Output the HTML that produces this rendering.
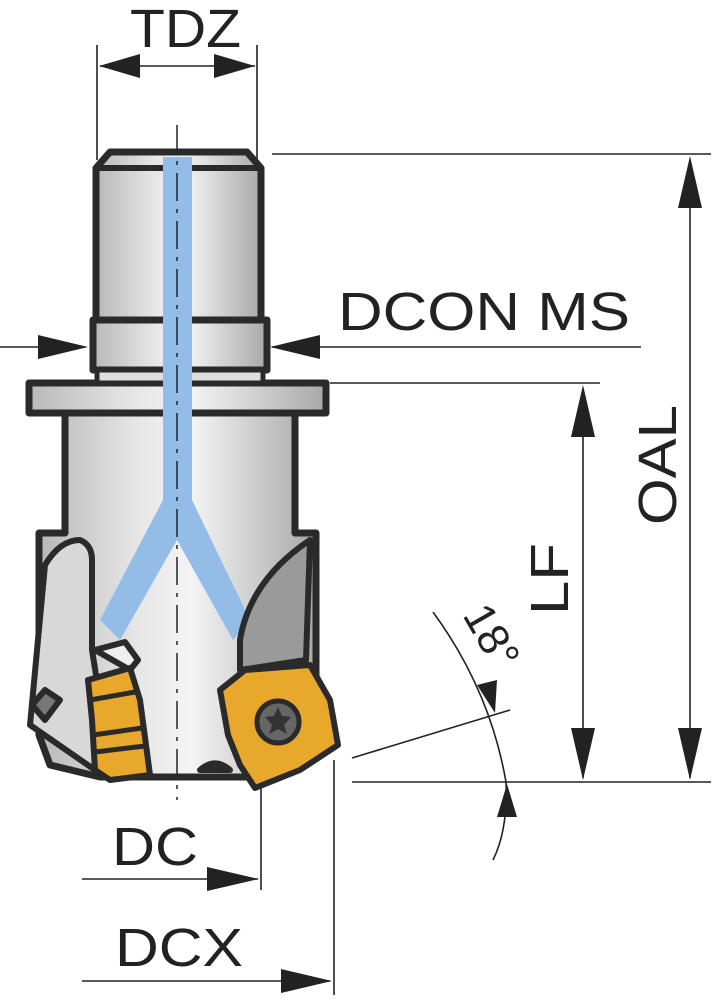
<!DOCTYPE html>
<html><head><style>html,body{margin:0;padding:0;background:#fff}svg{display:block}</style></head><body>
<svg width="712" height="1000" viewBox="0 0 712 1000" xmlns="http://www.w3.org/2000/svg">
<defs>
<linearGradient id="g" x1="0" x2="1" y1="0" y2="0">
<stop offset="0" stop-color="#b8b8b8"/><stop offset="0.35" stop-color="#e6e6e6"/><stop offset="0.55" stop-color="#f4f4f4"/><stop offset="1" stop-color="#a8a8a8"/>
</linearGradient>
</defs>
<g fill="none" stroke="#222" stroke-width="1.6">
<line x1="97" y1="45" x2="97" y2="160"/>
<line x1="257" y1="45" x2="257" y2="160"/>
<line x1="100" y1="66" x2="255" y2="66"/>
<line x1="272" y1="154" x2="711" y2="154"/>
<line x1="330" y1="383" x2="600" y2="383"/>
<line x1="352" y1="782" x2="711" y2="782"/>
<line x1="690" y1="160" x2="690" y2="778"/>
<line x1="583" y1="390" x2="583" y2="778"/>
<line x1="0" y1="347" x2="85" y2="347"/>
<line x1="272" y1="347" x2="641" y2="347"/>
<line x1="261" y1="785" x2="261" y2="890"/>
<line x1="82" y1="879" x2="258" y2="879"/>
<line x1="334" y1="760" x2="334" y2="995"/>
<line x1="82" y1="981" x2="330" y2="981"/>
<line x1="352" y1="758" x2="510" y2="710"/>
<path d="M433 612 Q490 690 506 782 Q508 830 493 860"/>
</g>
<g fill="#222">
<polygon points="99,66 140,54 140,78"/>
<polygon points="255,66 214,54 214,78"/>
<polygon points="690,156 678,208 702,208"/>
<polygon points="690,780 678,728 702,728"/>
<polygon points="583,385 571,437 595,437"/>
<polygon points="583,780 571,728 595,728"/>
<polygon points="88,347 38,335 38,359"/>
<polygon points="270,347 320,335 320,359"/>
<polygon points="259,879 207,867 207,891"/>
<polygon points="332,981 281,969 281,993"/>
<polygon points="495,713 477,685 497,680"/>
<polygon points="507,784 497,817 517,817"/>
</g>
<g stroke="#2a2a2a" stroke-width="7" stroke-linejoin="round">
<path d="M65 413 L65 533 L39 533 L39 735 L50 765 L100 777 L177 777 L260 777 L316 735 L316 533 L295 533 L295 413 Z" fill="url(#g)"/>
<path d="M29 383 L326 383 L326 413 L29 413 Z" fill="url(#g)"/>
<path d="M93 320 L267 320 L267 370 L93 370 Z" fill="url(#g)"/>
<path d="M97 370 L263 370 L263 383 L97 383 Z" fill="#ddd" stroke-width="5"/>
<path d="M96 168 L110 152 L247 152 L261 168 L261 320 L96 320 Z" fill="url(#g)"/>
</g>
<line x1="96" y1="168" x2="261" y2="168" stroke="#2a2a2a" stroke-width="6"/>
<g fill="#93bce6">
<rect x="163" y="157" width="29" height="350"/>
<polygon points="163,500 192,500 250,620 233,640 177,540 120,640 100,620"/>
</g>
<line x1="177" y1="125" x2="177" y2="800" stroke="#222" stroke-width="1.5" stroke-dasharray="28,8,4,8"/>
<g stroke="#2a2a2a" stroke-width="6" stroke-linejoin="round">
<path d="M45 565 Q60 540 80 540 Q92 545 92 560 L92 650 L100 700 L95 770 L30 725 Z" fill="#d8d8d8"/>
<path d="M310 540 L306 660 L240 670 L240 640 Q250 580 310 540 Z" fill="#9a9a9a"/>
<path d="M45 690 L60 700 L45 720 L32 705 Z" fill="#777"/>
<path d="M95 650 L125 642 L138 660 L130 670 Z" fill="#eee"/>
<path d="M88 680 L130 668 L140 700 L148 760 L150 775 L110 780 L95 770 L92 720 Z" fill="#e8a82c"/>
<path d="M220 690 L245 670 L310 665 L330 700 L338 745 L300 770 L255 788 L240 765 L228 735 Z" fill="#e8a82c"/>
<path d="M200 770 Q215 757 230 770 Z" fill="#555"/>
</g>
<circle cx="278" cy="722" r="21" fill="#666" stroke="#2a2a2a" stroke-width="5"/>
<polygon points="278,707 282,716 291,717 284,725 287,734 278,729 269,734 272,725 265,717 274,716" fill="#333"/>
<g stroke="#2a2a2a" stroke-width="5"><line x1="90" y1="700" x2="135" y2="692"/><line x1="93" y1="735" x2="142" y2="728"/><line x1="95" y1="752" x2="145" y2="746"/></g>
<g font-family="'Liberation Sans',sans-serif" fill="#222" font-size="54">
<text x="130" y="47" textLength="111" lengthAdjust="spacingAndGlyphs">TDZ</text>
<text x="338" y="330" textLength="292" lengthAdjust="spacingAndGlyphs">DCON MS</text>
<text x="112" y="865" textLength="86" lengthAdjust="spacingAndGlyphs">DC</text>
<text x="115" y="966" textLength="128" lengthAdjust="spacingAndGlyphs">DCX</text>
<text transform="translate(676,525) rotate(-90)" textLength="120" lengthAdjust="spacingAndGlyphs">OAL</text>
<text transform="translate(568,615) rotate(-90)" textLength="72" lengthAdjust="spacingAndGlyphs">LF</text>
<text transform="translate(462,615) rotate(60)" font-size="44">18°</text>
</g>
</svg>
</body></html>
